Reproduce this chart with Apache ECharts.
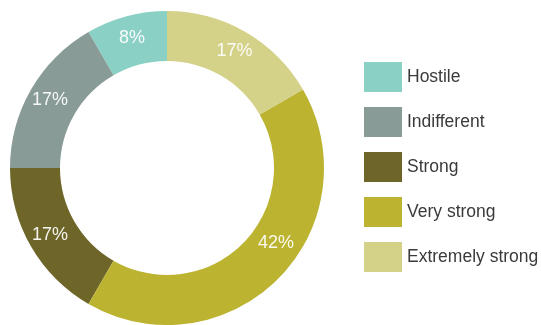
<!DOCTYPE html>
<html>
<head>
<meta charset="utf-8">
<script src="https://cdn.jsdelivr.net/npm/echarts@6/dist/echarts.min.js"></script>
<style>
html,body{margin:0;padding:0;background:#fff;}
#chart{width:541px;height:325px;}
</style>
</head>
<body>
<div id="chart"></div>
<script>
var categories = ['Hostile', 'Indifferent', 'Strong', 'Very strong', 'Extremely strong'];
var values = [1, 2, 2, 5, 2];
var colors = ['#8bd0c5', '#899b97', '#6e6629', '#bcb330', '#d4d188'];

var chart = echarts.init(document.getElementById('chart'), null, {renderer: 'canvas'});
var data = categories.map(function (c, i) {
  var item = {name: c, value: values[i], itemStyle: {color: colors[i]}};
  if (c === 'Very strong') {
    item.label = {padding: [0, 0, 0, 27], lineHeight: 41};
  }
  return item;
});
chart.setOption({
  animation: false,
  legend: {
    orient: 'vertical',
    left: 364,
    top: 62,
    padding: 0,
    itemWidth: 38,
    itemHeight: 30,
    itemGap: 15,
    icon: 'rect',
    data: categories,
    textStyle: {fontSize: 17.5, color: '#3a3a3a', fontFamily: 'Liberation Sans'}
  },
  series: [{
    type: 'pie',
    center: [167, 168],
    radius: [107, 157],
    startAngle: 90,
    clockwise: false,
    avoidLabelOverlap: false,
    label: {
      show: true,
      position: 'inside',
      color: 'rgba(255,255,255,0.92)',
      fontSize: 18,
      fontFamily: 'Liberation Sans',
      formatter: function (p) {
        var t = Math.round(p.percent) + '%';
        return p.name === 'Very strong' ? t + '\n ' : t;
      }
    },
    labelLine: {show: false},
    emphasis: {disabled: true},
    data: data
  }]
});
</script>
</body>
</html>
